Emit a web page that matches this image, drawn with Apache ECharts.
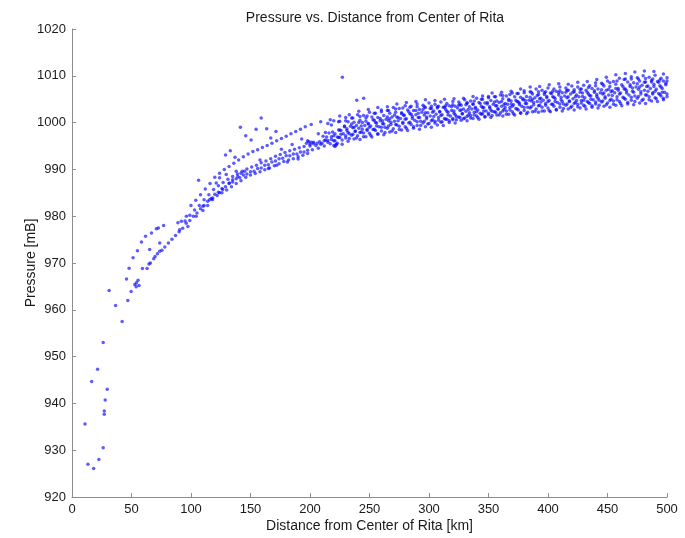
<!DOCTYPE html>
<html>
<head>
<meta charset="utf-8">
<script src="https://cdn.jsdelivr.net/npm/echarts@6/dist/echarts.min.js"></script>
<style>
  html, body { margin: 0; padding: 0; background: #ffffff; }
  #chart { width: 685px; height: 538px; }
</style>
</head>
<body>
<div id="chart"></div>
<script>
// Axis ticks
const xTicks = [0, 50, 100, 150, 200, 250, 300, 350, 400, 450, 500];
const yTicks = [920, 930, 940, 950, 960, 970, 980, 990, 1000, 1010, 1020];

// Observations close to the storm centre [distance km, pressure mB]
const innerCore = [
  [10.9, 935.6], [13.4, 927.0], [18.2, 926.1], [22.6, 928.0], [26.2, 930.5],
  [27.1, 938.4], [27.1, 937.7], [27.9, 940.7], [29.6, 943.0], [16.5, 944.7],
  [21.5, 947.3], [26.2, 953.0], [31.2, 964.1], [36.6, 960.9], [42.1, 957.5],
  [46.9, 962.0], [49.7, 963.9], [45.8, 966.6], [48.0, 968.9], [51.3, 971.1],
  [55.0, 972.6], [52.8, 965.4], [54.2, 965.8], [55.5, 966.3], [56.3, 965.2],
  [53.9, 964.9], [59.2, 968.8], [63.1, 968.8], [64.7, 969.8], [65.9, 970.0],
  [68.7, 970.9], [69.8, 971.4], [71.8, 972.0], [73.7, 972.5], [75.6, 972.7]
];

const innerUpper = [
  [58.4, 974.5], [61.8, 975.7], [66.8, 976.4], [70.9, 977.3], [72.6, 977.5], [77.0, 978.0]
];

// Main rise of pressure outward from the eyewall
const riseMid = [
  [78, 973.4], [81, 974.3], [84, 975.1], [87, 975.9], [90, 976.7], [93, 977.4],
  [96, 978.5], [99, 979.1], [102, 980.0], [105, 980.7], [108, 981.6], [111, 982.3],
  [114, 983.2], [117, 983.8], [120, 984.7], [123, 985.1], [126, 985.9], [129, 986.3],
  [132, 987.0], [135, 987.3], [138, 988.0], [141, 988.2], [144, 988.8], [147, 989.0],
  [150, 989.5], [153, 989.6], [156, 990.2], [159, 990.3], [162, 990.9], [165, 991.0],
  [168, 991.6], [171, 991.8], [174, 992.3], [177, 992.4], [180, 992.9], [183, 992.9],
  [186, 993.3], [189, 993.3], [192, 993.7], [195, 993.7], [198, 994.1]
];

const riseAbove = [
  [95, 979.0], [99, 980.2], [103, 981.3], [107, 982.3], [111, 983.5], [115, 984.6],
  [119, 985.7], [123, 986.5], [127, 987.2], [131, 987.9], [135, 988.5], [139, 989.0],
  [143, 989.6], [147, 990.1], [151, 990.5], [155, 990.9], [159, 991.4], [163, 991.8],
  [167, 992.3], [171, 992.8], [175, 993.2], [179, 993.6], [183, 994.0], [187, 994.3],
  [191, 994.6], [195, 994.9]
];

const riseBelow = [
  [110, 981.2], [114, 982.3], [118, 983.5], [122, 984.4], [126, 985.0], [130, 985.6],
  [134, 986.3], [138, 987.0], [142, 987.6], [146, 988.3], [150, 988.8], [154, 989.1],
  [158, 989.5], [162, 989.9], [166, 990.3], [170, 990.8], [174, 991.2], [178, 991.7],
  [182, 992.0], [186, 992.3], [190, 992.7], [194, 993.0], [198, 993.4]
];

// Loose readings scattered around the rise
const riseScatter = [
  [65.3, 972.9], [73.7, 974.3], [89.0, 978.6], [90.5, 977.1], [91.9, 978.9], [96.1, 980.0],
  [97.4, 977.8], [104.4, 980.0], [110.0, 982.1], [115.6, 983.5], [118.3, 983.9], [121.2, 987.1],
  [124.0, 985.0], [124.0, 988.2], [126.7, 985.7], [129.6, 988.9], [132.3, 987.1], [135.0, 987.8],
  [138.0, 989.6], [139.3, 988.5], [142.0, 989.2], [145.0, 989.6], [158.0, 992.0], [165.0, 990.2],
  [172.0, 990.9], [176.0, 994.3], [181.0, 991.6], [185.0, 995.3], [190.0, 992.2], [193.0, 996.5]
];

// Second, higher branch between 100 and 200 km
const riseUpper = [
  [100, 982.3], [104, 983.4], [108, 984.6], [112, 985.8], [116, 987.0], [120, 988.3],
  [124, 989.2], [128, 990.0], [132, 990.6], [136, 991.3], [140, 992.0], [144, 992.7],
  [148, 993.3], [152, 993.8], [156, 994.2], [160, 994.7], [164, 995.1], [168, 995.6],
  [172, 996.1], [176, 996.6], [180, 997.1], [184, 997.6], [188, 998.1], [192, 998.6],
  [196, 999.1]
];

// Isolated readings
const outliers = [
  [227.2, 1009.7], [239.3, 1004.8], [245.1, 1005.2], [159.0, 1001.0], [141.5, 999.0],
  [146.0, 997.2], [150.5, 996.3], [154.7, 998.6], [163.6, 998.7], [171.4, 998.1],
  [167.0, 996.7], [129.0, 993.1], [133.0, 994.0], [137.0, 992.6], [106.4, 987.7],
  [197, 995.6], [199, 995.9], [200, 995.4], [201, 995.8], [203, 995.5], [198, 996.1],
  [220, 995.1], [222, 995.4], [221, 994.9], [223, 995.6]
];

// Outer passes, 200-500 km
const passA = [
  [201, 999.6], [209, 1000.2], [217, 1000.6], [225, 1001.4], [233, 1001.7], [241, 1002.4],
  [249, 1002.8], [257, 1003.2], [265, 1003.4], [273, 1004.0], [281, 1004.3], [289, 1004.5],
  [297, 1004.9], [305, 1004.7], [313, 1005.0], [321, 1005.1], [329, 1005.2], [337, 1005.6],
  [345, 1005.7], [353, 1006.3], [361, 1006.5], [369, 1006.7], [377, 1007.2], [385, 1007.6],
  [393, 1007.7], [401, 1008.1], [409, 1008.3], [417, 1008.2], [425, 1008.6], [433, 1008.8],
  [441, 1009.2], [449, 1009.7], [457, 1010.2], [465, 1010.5], [473, 1010.8], [481, 1011.0],
  [489, 1010.9], [497, 1010.4]
];

const passB = [
  [215, 999.8], [220, 1000.4], [225, 1000.3], [230, 1001.1], [235, 1001.0], [240, 1001.7],
  [245, 1001.5], [250, 1002.2], [255, 1002.0], [260, 1002.7], [265, 1002.6], [270, 1003.2],
  [275, 1003.0], [280, 1003.6], [285, 1003.5], [290, 1004.0], [295, 1003.7], [300, 1004.2],
  [305, 1003.9], [310, 1004.4], [315, 1004.1], [320, 1004.5], [325, 1004.4], [330, 1004.9],
  [335, 1004.6], [340, 1005.2], [345, 1005.0], [350, 1005.6], [355, 1005.5], [360, 1005.9],
  [365, 1005.7], [370, 1006.3], [375, 1006.2], [380, 1006.8], [385, 1006.6], [390, 1007.2],
  [395, 1006.9], [400, 1007.4], [405, 1007.2], [410, 1007.6], [415, 1007.4], [420, 1007.8],
  [425, 1007.6], [430, 1008.0], [435, 1007.9], [440, 1008.5], [445, 1008.4], [450, 1008.9],
  [455, 1008.8], [460, 1009.5], [465, 1009.3], [470, 1009.8], [475, 1009.6], [480, 1010.0],
  [485, 1009.7], [490, 1010.1], [495, 1009.5], [500, 1009.6]
];

const passI = [
  [218, 999.5], [224, 1000.2], [230, 1000.4], [236, 1001.0], [242, 1001.3], [248, 1001.4],
  [254, 1002.0], [260, 1002.3], [266, 1002.6], [272, 1002.9], [278, 1003.1], [284, 1003.3],
  [290, 1003.4], [296, 1003.4], [302, 1003.5], [308, 1003.5], [314, 1003.6], [320, 1003.8],
  [326, 1004.0], [332, 1004.3], [338, 1004.6], [344, 1005.0], [350, 1005.3], [356, 1005.5],
  [362, 1005.8], [368, 1006.0], [374, 1006.2], [380, 1006.4], [386, 1006.5], [392, 1006.6],
  [398, 1006.6], [404, 1006.7], [410, 1006.8], [416, 1006.9], [422, 1007.0], [428, 1007.2],
  [434, 1007.5], [440, 1007.9], [446, 1008.2], [452, 1008.5], [458, 1008.9], [464, 1009.2],
  [470, 1009.3], [476, 1009.3], [482, 1009.4], [488, 1009.3], [494, 1009.1], [500, 1008.9]
];

const passC = [
  [232, 1000.2], [237, 1000.1], [242, 1000.5], [247, 1001.0], [252, 1001.2], [257, 1001.1],
  [262, 1001.5], [267, 1002.0], [272, 1002.2], [277, 1002.1], [282, 1002.7], [287, 1002.6],
  [292, 1002.8], [297, 1003.2], [302, 1003.0], [307, 1003.4], [312, 1003.3], [317, 1003.6],
  [322, 1003.5], [327, 1003.7], [332, 1004.1], [337, 1003.9], [342, 1004.3], [347, 1004.2],
  [352, 1004.7], [357, 1004.6], [362, 1005.1], [367, 1005.0], [372, 1005.5], [377, 1005.4],
  [382, 1005.6], [387, 1006.1], [392, 1006.0], [397, 1006.4], [402, 1006.3], [407, 1006.7],
  [412, 1006.4], [417, 1006.9], [422, 1006.6], [427, 1007.1], [432, 1006.9], [437, 1007.3],
  [442, 1007.2], [447, 1007.8], [452, 1007.7], [457, 1008.2], [462, 1008.1], [467, 1008.7],
  [472, 1008.5], [477, 1008.9], [482, 1008.7], [487, 1009.0], [492, 1008.8], [497, 1008.9]
];

const passM = [
  [229, 999.3], [235, 999.7], [241, 1000.0], [247, 1000.3], [253, 1000.6], [259, 1000.9],
  [265, 1001.2], [271, 1001.6], [277, 1001.9], [283, 1002.3], [289, 1002.6], [295, 1002.8],
  [301, 1003.0], [307, 1003.1], [313, 1003.3], [319, 1003.4], [325, 1003.7], [331, 1003.8],
  [337, 1004.0], [343, 1004.1], [349, 1004.3], [355, 1004.4], [361, 1004.5], [367, 1004.7],
  [373, 1004.8], [379, 1005.1], [385, 1005.4], [391, 1005.8], [397, 1006.0], [403, 1006.2],
  [409, 1006.4], [415, 1006.5], [421, 1006.5], [427, 1006.5], [433, 1006.5], [439, 1006.8],
  [445, 1007.0], [451, 1007.1], [457, 1007.3], [463, 1007.7], [469, 1008.1], [475, 1008.3],
  [481, 1008.6], [487, 1008.7], [493, 1008.6], [499, 1008.4]
];

const passD = [
  [224, 998.4], [229, 999.1], [234, 999.2], [239, 999.4], [244, 1000.0], [249, 999.8],
  [254, 1000.5], [259, 1000.4], [264, 1000.7], [269, 1001.2], [274, 1001.1], [279, 1001.6],
  [284, 1001.9], [289, 1001.7], [294, 1002.2], [299, 1002.1], [304, 1002.5], [309, 1002.3],
  [314, 1002.8], [319, 1002.6], [324, 1003.1], [329, 1002.9], [334, 1003.4], [339, 1003.3],
  [344, 1003.5], [349, 1004.0], [354, 1003.9], [359, 1004.3], [364, 1004.1], [369, 1004.6],
  [374, 1004.5], [379, 1004.9], [384, 1004.8], [389, 1005.3], [394, 1005.2], [399, 1005.6],
  [404, 1005.5], [409, 1005.9], [414, 1005.7], [419, 1006.1], [424, 1005.9], [429, 1006.3],
  [434, 1006.1], [439, 1006.5], [444, 1006.4], [449, 1006.9], [454, 1006.8], [459, 1007.3],
  [464, 1007.2], [469, 1007.7], [474, 1007.6], [479, 1008.0], [484, 1007.8], [489, 1008.2],
  [494, 1007.9], [499, 1008.1]
];

const passJ = [
  [207, 997.6], [213, 997.9], [219, 998.0], [225, 998.4], [231, 998.7], [237, 999.0],
  [243, 999.3], [249, 999.7], [255, 1000.0], [261, 1000.4], [267, 1000.8], [273, 1001.2],
  [279, 1001.5], [285, 1001.8], [291, 1002.0], [297, 1002.1], [303, 1002.2], [309, 1002.3],
  [315, 1002.4], [321, 1002.5], [327, 1002.7], [333, 1002.8], [339, 1003.0], [345, 1003.2],
  [351, 1003.4], [357, 1003.6], [363, 1003.8], [369, 1004.0], [375, 1004.4], [381, 1004.7],
  [387, 1005.0], [393, 1005.1], [399, 1005.3], [405, 1005.4], [411, 1005.4], [417, 1005.5],
  [423, 1005.5], [429, 1005.6], [435, 1005.8], [441, 1006.0], [447, 1006.3], [453, 1006.6],
  [459, 1006.9], [465, 1007.2], [471, 1007.4], [477, 1007.6], [483, 1007.7], [489, 1007.7],
  [495, 1007.6]
];

const passE = [
  [211, 997.1], [216, 997.8], [221, 997.6], [226, 998.3], [231, 998.3], [236, 998.9],
  [241, 998.8], [246, 999.4], [251, 999.3], [256, 999.9], [261, 999.8], [266, 1000.4],
  [271, 1000.3], [276, 1000.9], [281, 1000.8], [286, 1001.3], [291, 1001.1], [296, 1001.6],
  [301, 1001.4], [306, 1001.8], [311, 1001.7], [316, 1002.2], [321, 1002.0], [326, 1002.6],
  [331, 1002.4], [336, 1002.9], [341, 1002.7], [346, 1003.2], [351, 1003.1], [356, 1003.6],
  [361, 1003.5], [366, 1003.9], [371, 1003.8], [376, 1004.2], [381, 1004.1], [386, 1004.6],
  [391, 1004.5], [396, 1004.8], [401, 1004.7], [406, 1005.1], [411, 1004.9], [416, 1005.3],
  [421, 1005.1], [426, 1005.5], [431, 1005.3], [436, 1005.7], [441, 1005.6], [446, 1006.1],
  [451, 1005.9], [456, 1006.4], [461, 1006.3], [466, 1006.8], [471, 1006.7], [476, 1007.1],
  [481, 1006.9], [486, 1007.3], [491, 1007.1], [496, 1007.3]
];

const passN = [
  [214, 996.9], [220, 997.2], [226, 997.5], [232, 997.9], [238, 998.2], [244, 998.6],
  [250, 999.0], [256, 999.3], [262, 999.7], [268, 1000.1], [274, 1000.4], [280, 1000.7],
  [286, 1000.9], [292, 1001.1], [298, 1001.2], [304, 1001.3], [310, 1001.5], [316, 1001.6],
  [322, 1001.7], [328, 1001.9], [334, 1002.1], [340, 1002.3], [346, 1002.5], [352, 1002.7],
  [358, 1002.9], [364, 1003.2], [370, 1003.5], [376, 1003.8], [382, 1004.1], [388, 1004.3],
  [394, 1004.4], [400, 1004.5], [406, 1004.5], [412, 1004.5], [418, 1004.6], [424, 1004.7],
  [430, 1004.8], [436, 1005.0], [442, 1005.2], [448, 1005.5], [454, 1005.8], [460, 1006.1],
  [466, 1006.3], [472, 1006.5], [478, 1006.6], [484, 1006.7], [490, 1006.7], [496, 1006.5]
];

const passF = [
  [203, 995.8], [208, 995.9], [213, 996.3], [218, 997.0], [223, 996.9], [228, 997.6],
  [233, 997.6], [238, 998.1], [243, 998.0], [248, 998.6], [253, 998.5], [258, 999.1],
  [263, 999.0], [268, 999.6], [273, 999.5], [278, 1000.1], [283, 999.9], [288, 1000.5],
  [293, 1000.3], [298, 1000.8], [303, 1000.6], [308, 1001.1], [313, 1000.9], [318, 1001.4],
  [323, 1001.3], [328, 1001.9], [333, 1001.6], [338, 1002.2], [343, 1002.0], [348, 1002.5],
  [353, 1002.4], [358, 1002.9], [363, 1002.8], [368, 1003.2], [373, 1003.0], [378, 1003.5],
  [383, 1003.3], [388, 1003.8], [393, 1003.7], [398, 1004.1], [403, 1003.9], [408, 1004.3],
  [413, 1004.0], [418, 1004.5], [423, 1004.3], [428, 1004.7], [433, 1004.5], [438, 1004.9],
  [443, 1004.8], [448, 1005.2], [453, 1005.0], [458, 1005.5], [463, 1005.4], [468, 1005.9],
  [473, 1005.7], [478, 1006.1], [483, 1005.9], [488, 1006.4], [493, 1006.2], [498, 1006.5]
];

const passK = [
  [206, 995.6], [212, 996.1], [218, 996.4], [224, 996.8], [230, 997.2], [236, 997.5],
  [242, 997.9], [248, 998.3], [254, 998.6], [260, 999.0], [266, 999.3], [272, 999.6],
  [278, 999.8], [284, 1000.1], [290, 1000.2], [296, 1000.3], [302, 1000.4], [308, 1000.5],
  [314, 1000.7], [320, 1000.9], [326, 1001.1], [332, 1001.3], [338, 1001.6], [344, 1001.8],
  [350, 1002.0], [356, 1002.2], [362, 1002.5], [368, 1002.7], [374, 1002.9], [380, 1003.2],
  [386, 1003.4], [392, 1003.6], [398, 1003.7], [404, 1003.9], [410, 1004.0], [416, 1004.0],
  [422, 1004.1], [428, 1004.2], [434, 1004.3], [440, 1004.4], [446, 1004.6], [452, 1004.7],
  [458, 1004.9], [464, 1005.2], [470, 1005.4], [476, 1005.6], [482, 1005.9], [488, 1006.1],
  [494, 1006.0], [500, 1006.1]
];

const passG = [
  [200, 995.0], [205, 995.1], [210, 995.6], [215, 996.2], [220, 996.1], [225, 996.8],
  [230, 996.7], [235, 997.3], [240, 997.2], [245, 997.8], [250, 997.7], [255, 998.3],
  [260, 998.2], [265, 998.8], [270, 998.7], [275, 999.2], [280, 999.1], [285, 999.6],
  [290, 999.4], [295, 999.9], [300, 999.8], [305, 1000.3], [310, 1000.1], [315, 1000.7],
  [320, 1000.6], [325, 1001.2], [330, 1001.0], [335, 1001.5], [340, 1001.4], [345, 1001.9],
  [350, 1001.7], [355, 1002.3], [360, 1002.1], [365, 1002.5], [370, 1002.3], [375, 1002.7],
  [380, 1002.6], [385, 1003.1], [390, 1002.9], [395, 1003.3], [400, 1003.1], [405, 1003.5],
  [410, 1003.3], [415, 1003.7], [420, 1003.5], [425, 1003.9], [430, 1003.7], [435, 1004.1],
  [440, 1004.0], [445, 1004.4], [450, 1004.2], [455, 1004.6], [460, 1004.5], [465, 1005.0],
  [470, 1004.8], [475, 1005.2], [480, 1005.0], [485, 1005.5], [490, 1005.3], [495, 1005.7],
  [500, 1005.5]
];

const passL = [
  [209, 995.4], [215, 995.8], [221, 996.1], [227, 996.3], [233, 996.6], [239, 996.7],
  [245, 997.0], [251, 997.3], [257, 997.6], [263, 997.9], [269, 998.2], [275, 998.5],
  [281, 998.8], [287, 999.1], [293, 999.4], [299, 999.7], [305, 999.9], [311, 1000.2],
  [317, 1000.4], [323, 1000.6], [329, 1000.8], [335, 1001.0], [341, 1001.1], [347, 1001.3],
  [353, 1001.5], [359, 1001.6], [365, 1001.8], [371, 1001.9], [377, 1002.1], [383, 1002.2],
  [389, 1002.4], [395, 1002.5], [401, 1002.6], [407, 1002.8], [413, 1003.0], [419, 1003.2],
  [425, 1003.4], [431, 1003.5], [437, 1003.6], [443, 1003.7], [449, 1003.8], [455, 1003.9],
  [461, 1004.1], [467, 1004.3], [473, 1004.5], [479, 1004.7], [485, 1004.9], [491, 1005.1],
  [497, 1005.2]
];

const passH = [
  [202, 994.2], [207, 994.5], [212, 995.0], [217, 995.5], [222, 995.2], [227, 995.4],
  [232, 996.0], [237, 996.5], [242, 996.4], [247, 997.0], [252, 996.9], [257, 997.5],
  [262, 997.4], [267, 998.0], [272, 997.9], [277, 998.4], [282, 998.3], [287, 998.8],
  [292, 998.6], [297, 999.1], [302, 999.0], [307, 999.5], [312, 999.4], [317, 1000.0],
  [322, 999.9], [327, 1000.5], [332, 1000.4], [337, 1000.9], [342, 1000.7], [347, 1001.2],
  [352, 1001.1], [357, 1001.6], [362, 1001.4], [367, 1001.8], [372, 1001.6], [377, 1002.0],
  [382, 1001.9], [387, 1002.3], [392, 1002.2], [397, 1002.5], [402, 1002.3], [407, 1002.7],
  [412, 1002.5], [417, 1002.9], [422, 1002.7], [427, 1003.1], [432, 1002.9], [437, 1003.3],
  [442, 1003.1], [447, 1003.5], [452, 1003.3], [457, 1003.7], [462, 1003.6], [467, 1004.0],
  [472, 1003.8], [477, 1004.2], [482, 1004.1], [487, 1004.6], [492, 1004.5], [497, 1004.9]
];

const groups = [
  innerCore, innerUpper, riseMid, riseAbove, riseBelow, riseScatter, riseUpper, outliers,
  passA, passB, passI, passC, passM, passD, passJ, passE, passN, passF, passK,
  passG, passL, passH
];

const chart = echarts.init(document.getElementById('chart'), null, { renderer: 'canvas' });

const axisGrey = '#8c8c8c';
const textCol = '#1a1a1a';
const fontFam = '"Liberation Sans", Arial, sans-serif';

chart.setOption({
  animation: false,
  backgroundColor: '#ffffff',
  title: {
    text: 'Pressure vs. Distance from Center of Rita',
    left: 370, top: 6, textAlign: 'center',
    textStyle: { fontFamily: fontFam, fontSize: 14, fontWeight: 'normal', color: textCol }
  },
  grid: { left: 72, right: 18, top: 29, bottom: 40 },
  xAxis: {
    type: 'value',
    min: xTicks[0], max: xTicks[xTicks.length - 1], interval: xTicks[1] - xTicks[0],
    name: 'Distance from Center of Rita [km]',
    nameLocation: 'middle', nameGap: 22, nameMoveOverlap: false,
    nameTextStyle: { fontFamily: fontFam, fontSize: 14, color: textCol },
    axisLine: { show: true, lineStyle: { color: axisGrey, width: 1 } },
    axisTick: { show: true, inside: true, length: 4, lineStyle: { color: axisGrey } },
    axisLabel: { fontFamily: fontFam, fontSize: 13, color: textCol, margin: 6, formatter: v => String(v) },
    splitLine: { show: false }
  },
  yAxis: {
    type: 'value',
    min: yTicks[0], max: yTicks[yTicks.length - 1], interval: yTicks[1] - yTicks[0],
    name: 'Pressure [mB]',
    nameLocation: 'middle', nameGap: 34, nameMoveOverlap: false,
    nameTextStyle: { fontFamily: fontFam, fontSize: 14, color: textCol },
    axisLine: { show: true, lineStyle: { color: axisGrey, width: 1 } },
    axisTick: { show: true, inside: true, length: 4, lineStyle: { color: axisGrey } },
    axisLabel: { fontFamily: fontFam, fontSize: 13, color: textCol, margin: 6, formatter: v => String(v) },
    splitLine: { show: false }
  },
  series: groups.map(g => ({
    type: 'scatter',
    data: g,
    symbol: 'circle',
    symbolSize: 3.5,
    itemStyle: { color: 'rgba(0,0,255,0.8)' },
    silent: true
  }))
});
</script>
</body>
</html>
